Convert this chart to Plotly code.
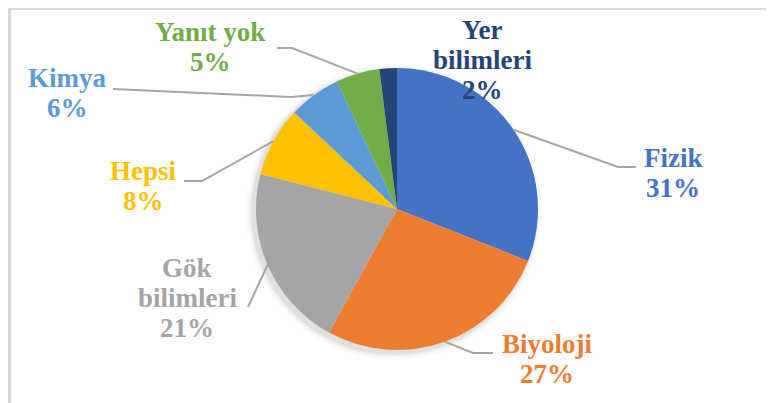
import math
import plotly.graph_objects as go

# ---- data ----
categories = ["Fizik", "Biyoloji", "Gök bilimleri", "Hepsi", "Kimya", "Yanıt yok", "Yer bilimleri"]
values = [31, 27, 21, 8, 6, 5, 2]
colors = ["#4472C4", "#ED7D31", "#A5A5A5", "#FFC000", "#5B9BD5", "#70AD47", "#264478"]
label_lines = [["Fizik"], ["Biyoloji"], ["Gök", "bilimleri"], ["Hepsi"], ["Kimya"], ["Yanıt yok"], ["Yer", "bilimleri"]]

# ---- layout settings (screen pixels) ----
W, H = 774, 403
OFF = 8  # page body margin offset
CX, CY, R = 397, 209, 141
FS = 27
LINE_GAP = 30
FONT = "Liberation Serif"
# label centre x and first baseline y
label_pos = {
    "Fizik": (673, 167),
    "Biyoloji": (547, 353),
    "Gök bilimleri": (187, 277),
    "Hepsi": (143, 180),
    "Kimya": (67, 87),
    "Yanıt yok": (210, 41),
    "Yer bilimleri": (482, 39),
}
# leader line: elbow point and end point near label (None = no leader)
leader = {
    "Fizik": [(618, 167), (636, 167)],
    "Biyoloji": [(473, 353), (493, 353)],
    "Gök bilimleri": [(248, 307)],
    "Hepsi": [(202, 181), (184, 181)],
    "Kimya": [(291, 97), (113, 89)],
    "Yanıt yok": [(292, 48), (277, 48)],
    "Yer bilimleri": None,
}

fig = go.Figure()
fig.add_trace(go.Scatter(x=[OFF], y=[OFF], mode="markers", marker=dict(opacity=0), hoverinfo="skip", showlegend=False))
fig.add_trace(go.Pie(
    labels=categories, values=values, sort=False, direction="clockwise", rotation=0,
    marker=dict(colors=colors, line=dict(width=0)),
    textinfo="none", hoverinfo="label+percent", showlegend=False,
    domain=dict(x=[(CX - OFF - R) / W, (CX - OFF + R) / W],
                y=[(H - (CY - OFF) - R) / H, (H - (CY - OFF) + R) / H]),
))

shapes = []
# frame lines (top and left)
shapes.append(dict(type="line", xref="x", yref="y", x0=0, x1=W + OFF, y0=8.5, y1=8.5, line=dict(color="#d9d9d9", width=3)))
shapes.append(dict(type="line", xref="x", yref="y", x0=9.5, x1=9.5, y0=8, y1=H + OFF, line=dict(color="#d9d9d9", width=3)))
# soft shadow under the pie
for dr, a in [(7, 0.025), (4, 0.04), (2, 0.06)]:
    shapes.append(dict(type="circle", xref="x", yref="y", layer="below",
                       x0=CX - 3 - R - dr, x1=CX - 3 + R + dr, y0=CY + 3 - R - dr, y1=CY + 3 + R + dr,
                       fillcolor=f"rgba(0,0,0,{a})", line=dict(width=0)))

annotations = []
total = sum(values)
cum = 0
for cat, v, col, lines in zip(categories, values, colors, label_lines):
    mid = (cum + v / 2) / total * 2 * math.pi
    cum += v
    ex = CX + R * math.sin(mid)
    ey = CY - R * math.cos(mid)
    pct = f"{round(v / total * 100)}%"
    all_lines = lines + [pct]
    lx, ly = label_pos[cat]
    for i, t in enumerate(all_lines):
        annotations.append(dict(
            x=lx, y=ly + i * LINE_GAP - 9, xref="x", yref="y", text=f"<b>{t}</b>",
            showarrow=False, xanchor="center", yanchor="middle",
            font=dict(family=FONT, size=FS, color=col),
        ))
    if leader[cat]:
        pts = [(ex, ey)] + leader[cat]
        path = "M " + " L ".join(f"{px},{py}" for px, py in pts)
        shapes.append(dict(type="path", xref="x", yref="y", path=path,
                           line=dict(color="#A6A6A6", width=2)))

fig.update_layout(
    width=W, height=H, margin=dict(l=0, r=0, t=0, b=0),
    paper_bgcolor="white", plot_bgcolor="rgba(0,0,0,0)",
    font=dict(family=FONT),
    xaxis=dict(range=[OFF, W + OFF], visible=False, fixedrange=True),
    yaxis=dict(range=[H + OFF, OFF], visible=False, fixedrange=True),
    shapes=shapes, annotations=annotations,
)
fig.write_html("out.html")
